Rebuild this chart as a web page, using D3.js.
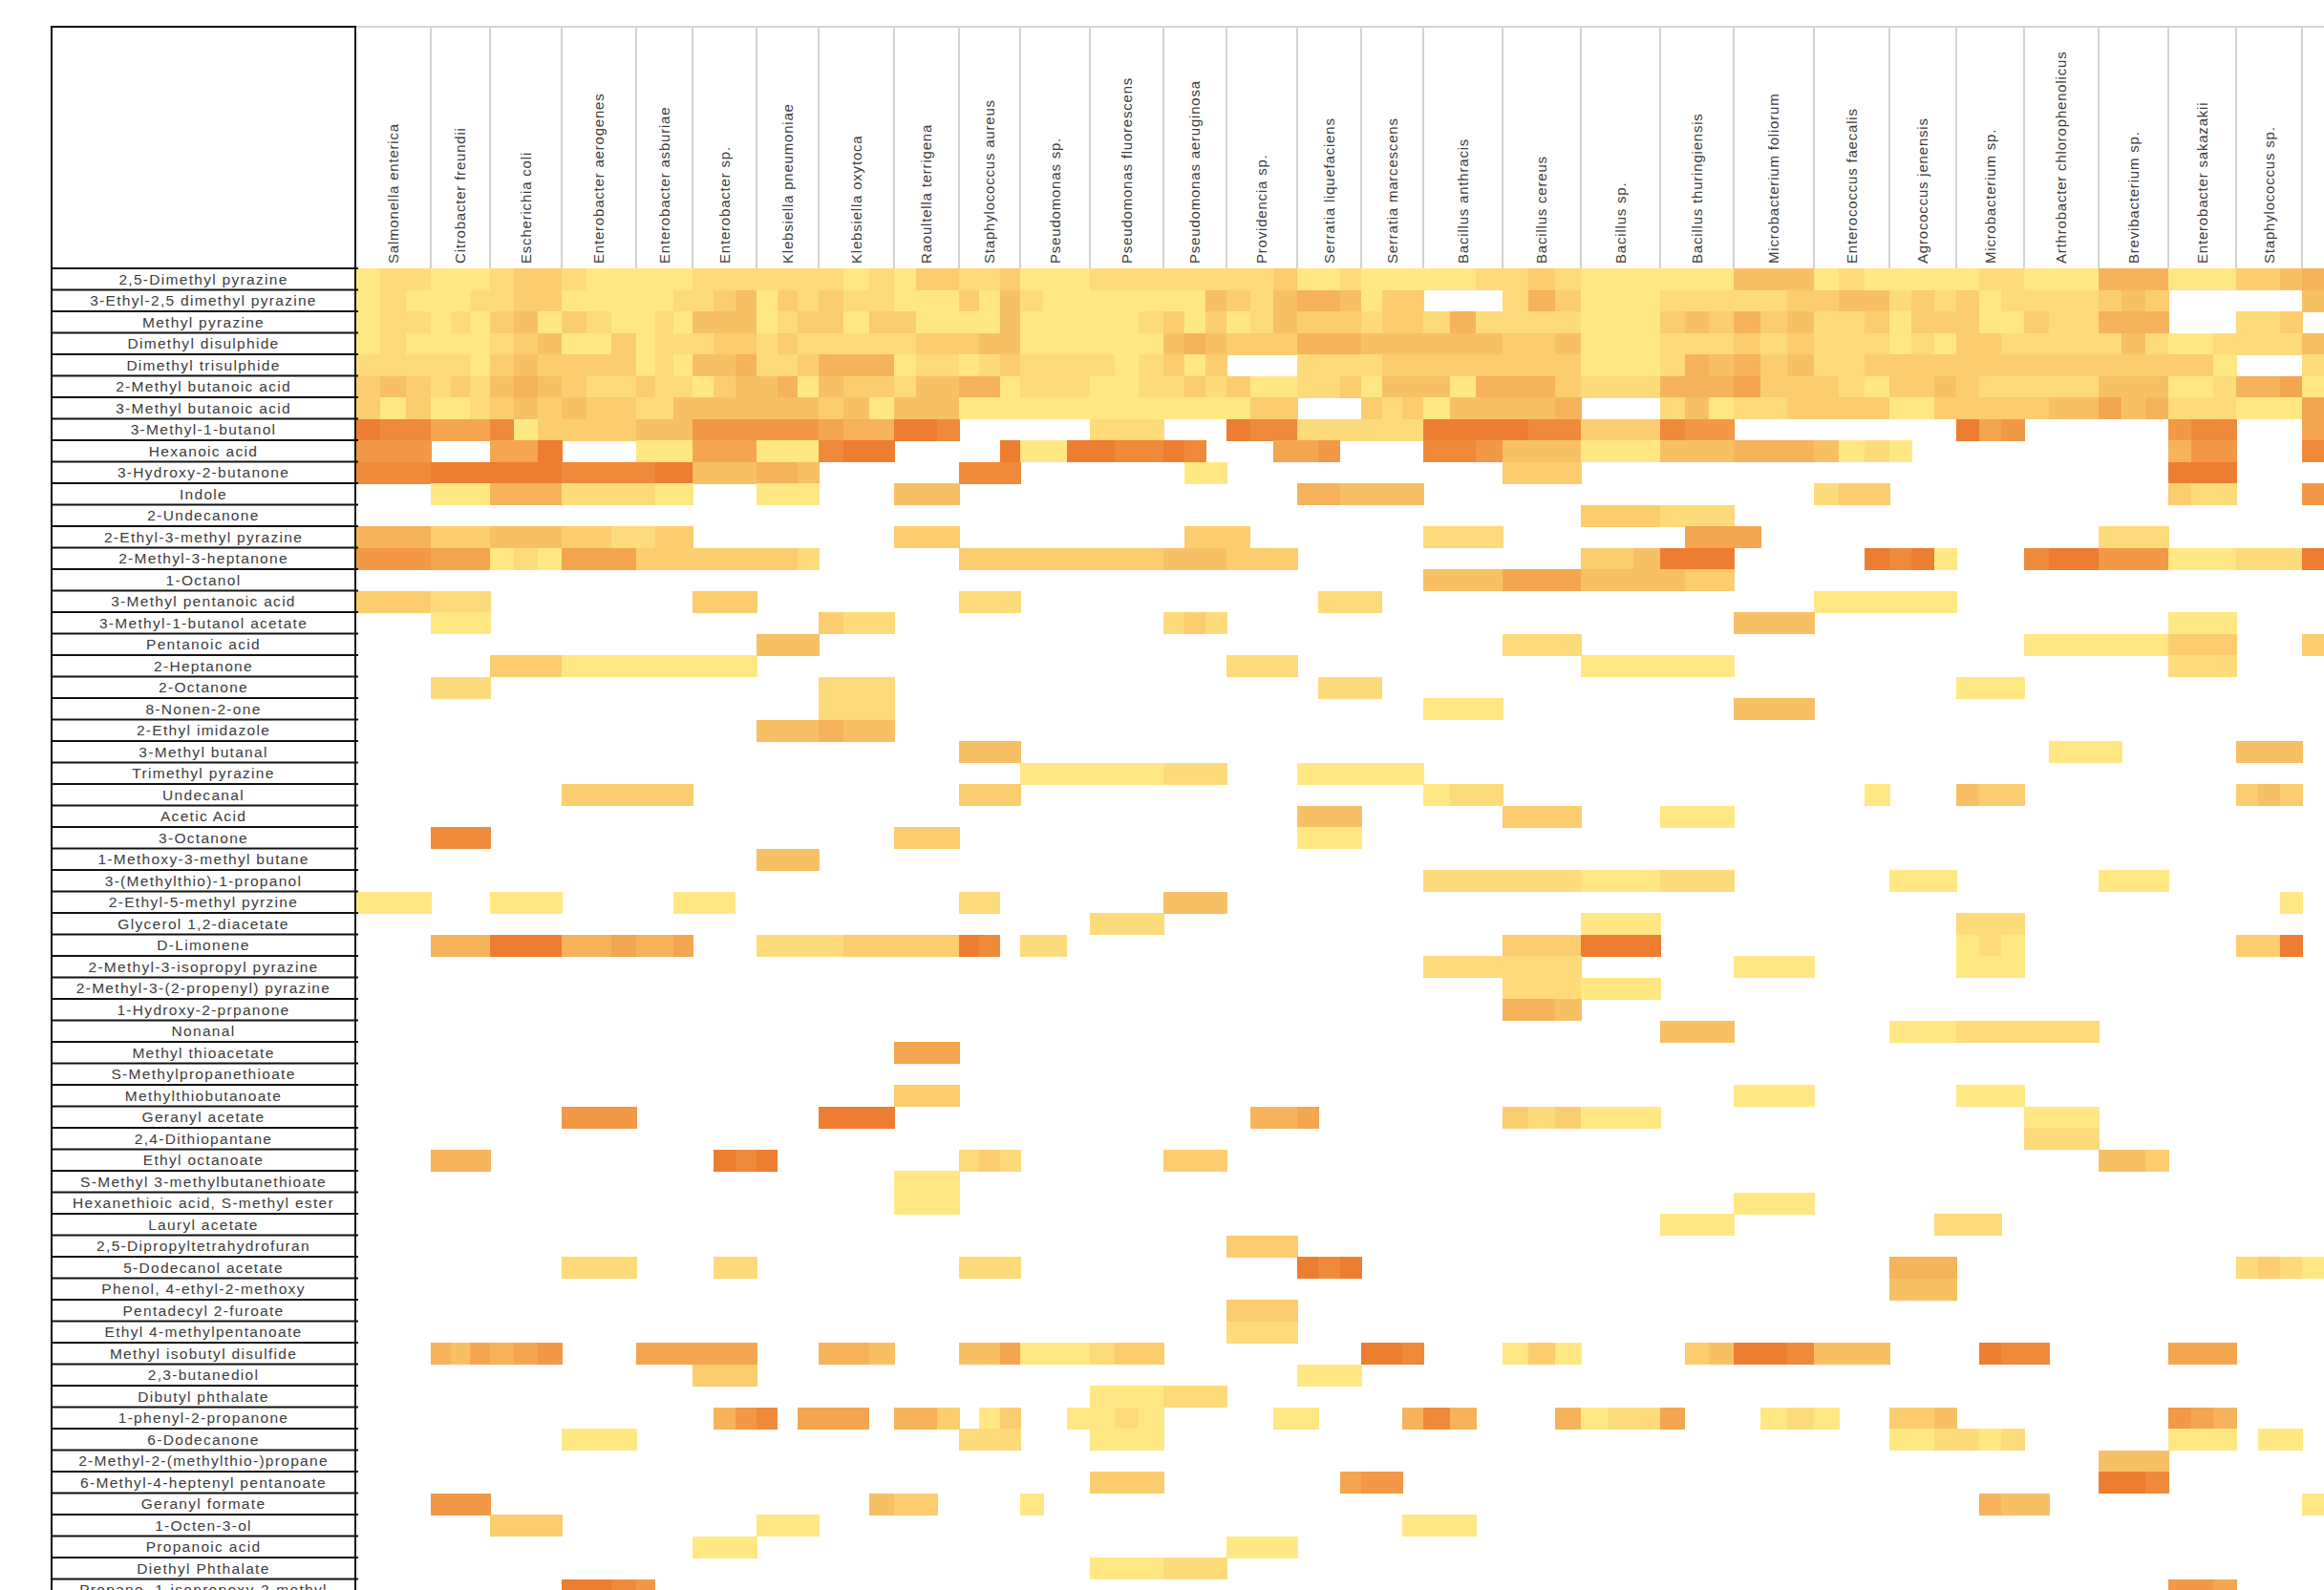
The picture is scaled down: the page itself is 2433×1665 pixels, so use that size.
<!DOCTYPE html>
<html>
<head>
<meta charset="utf-8">
<script src="https://cdn.jsdelivr.net/npm/d3@7"></script>
<style>
  html, body { margin: 0; padding: 0; background: #fff; overflow: hidden; }
  svg { display: block; }
  text { font-family: "Liberation Sans", Arial, sans-serif; fill: #3c3c3c; }
</style>
</head>
<body>
<div id="chart"></div>
<script>
// bacteria (columns), each split in three sub-columns in the sheet
const species = [
  "Salmonella enterica", "Citrobacter freundii", "Escherichia coli", "Enterobacter aerogenes",
  "Enterobacter asburiae", "Enterobacter sp.", "Klebsiella pneumoniae", "Klebsiella oxytoca",
  "Raoultella terrigena", "Staphylococcus aureus", "Pseudomonas sp.", "Pseudomonas fluorescens",
  "Pseudomonas aeruginosa", "Providencia sp.", "Serratia liquefaciens", "Serratia marcescens",
  "Bacillus anthracis", "Bacillus cereus", "Bacillus sp.", "Bacillus thuringiensis",
  "Microbacterium foliorum", "Enterococcus faecalis", "Agrococcus jenensis", "Microbacterium sp.",
  "Arthrobacter chlorophenolicus", "Brevibacterium sp.", "Enterobacter sakazakii", "Staphylococcus sp.", ""
];
// short keys used in the cell table below, same order as species
const speciesKey = ["S","C","E","A","B","N","P","O","R","U","Ps","F","G","V","L","M",
  "Ba","Bc","Bs","Bt","Mf","Ef","Ag","Ms","Ar","Bv","Sk","St","X"];

const compounds = [
  "2,5-Dimethyl pyrazine", "3-Ethyl-2,5 dimethyl pyrazine", "Methyl pyrazine", "Dimethyl disulphide",
  "Dimethyl trisulphide", "2-Methyl butanoic acid", "3-Methyl butanoic acid", "3-Methyl-1-butanol",
  "Hexanoic acid", "3-Hydroxy-2-butanone", "Indole", "2-Undecanone", "2-Ethyl-3-methyl pyrazine",
  "2-Methyl-3-heptanone", "1-Octanol", "3-Methyl pentanoic acid", "3-Methyl-1-butanol acetate",
  "Pentanoic acid", "2-Heptanone", "2-Octanone", "8-Nonen-2-one", "2-Ethyl imidazole",
  "3-Methyl butanal", "Trimethyl pyrazine", "Undecanal", "Acetic Acid", "3-Octanone",
  "1-Methoxy-3-methyl butane", "3-(Methylthio)-1-propanol", "2-Ethyl-5-methyl pyrzine",
  "Glycerol 1,2-diacetate", "D-Limonene", "2-Methyl-3-isopropyl pyrazine",
  "2-Methyl-3-(2-propenyl) pyrazine", "1-Hydroxy-2-prpanone", "Nonanal", "Methyl thioacetate",
  "S-Methylpropanethioate", "Methylthiobutanoate", "Geranyl acetate", "2,4-Dithiopantane",
  "Ethyl octanoate", "S-Methyl 3-methylbutanethioate", "Hexanethioic acid, S-methyl ester",
  "Lauryl acetate", "2,5-Dipropyltetrahydrofuran", "5-Dodecanol acetate", "Phenol, 4-ethyl-2-methoxy",
  "Pentadecyl 2-furoate", "Ethyl 4-methylpentanoate", "Methyl isobutyl disulfide", "2,3-butanediol",
  "Dibutyl phthalate", "1-phenyl-2-propanone", "6-Dodecanone", "2-Methyl-2-(methylthio-)propane",
  "6-Methyl-4-heptenyl pentanoate", "Geranyl formate", "1-Octen-3-ol", "Propanoic acid",
  "Diethyl Phthalate", "Propane, 1-isopropoxy-2-methyl"
];

// intensity 1 (pale) .. 9 (strong) for the three sub-columns of each bacterium, "." = not detected
const cellLevels = [
  "S:122 C:111 E:233 A:211 B:111 N:222 P:222 O:212 R:133 U:223 Ps:111 F:222 G:222 V:223 L:112 M:111 Ba:112 Bc:232 Bs:111 Bt:111 Mf:444 Ef:121 Ag:111 Ms:122 Ar:111 Bv:555 Sk:111 St:334 X:5..",
  "S:121 C:112 E:233 A:111 B:112 N:234 P:132 O:322 R:111 U:314 Ps:211 F:111 G:114 V:324 L:554 M:133 Bc:253 Bs:111 Bt:222 Mf:223 Ef:344 Ag:232 Ms:312 Ar:222 Bv:343 X:4..",
  "S:122 C:121 E:341 A:321 B:121 N:444 P:123 O:313 R:311 U:114 Ps:111 F:112 G:313 V:124 L:333 M:233 Ba:252 Bc:222 Bs:111 Bt:343 Mf:534 Ef:223 Ag:133 Ms:311 Ar:322 Bv:555 St:223",
  "S:121 C:111 E:234 A:113 B:122 N:233 P:232 O:222 R:233 U:344 Ps:111 F:111 G:454 V:333 L:555 M:444 Ba:444 Bc:334 Bs:111 Bt:222 Mf:323 Ef:222 Ag:121 Ms:332 Ar:222 Bv:242 Sk:112 St:222 X:4..",
  "S:222 C:221 E:343 A:333 B:121 N:445 P:223 O:555 R:122 U:123 Ps:222 F:212 G:313 L:222 M:233 Ba:333 Bc:333 Bs:111 Bt:254 Mf:534 Ef:223 Ag:333 Ms:333 Ar:333 Bv:333 Sk:331 X:2..",
  "S:343 C:232 E:454 A:322 B:322 N:134 P:451 O:433 R:244 U:551 Ps:222 F:112 G:232 V:311 L:223 M:144 Ba:415 Bc:553 Bs:222 Bt:555 Mf:633 Ef:321 Ag:334 Ms:322 Ar:222 Bv:444 Sk:112 St:556 X:1..",
  "S:313 C:112 E:343 A:433 B:224 N:444 P:444 O:341 R:444 U:111 Ps:111 F:111 G:111 V:133 M:323 Ba:144 Bc:445 Bt:241 Mf:223 Ef:333 Ag:113 Ms:333 Ar:344 Bv:645 Sk:222 St:111 X:6..",
  "S:988 C:666 E:813 A:333 B:444 N:777 P:777 O:655 R:998 F:222 V:988 L:222 M:222 Ba:999 Bc:988 Bs:333 Bt:877 Ms:967 Sk:788 X:6..",
  "S:777 E:669 B:111 N:666 P:111 O:899 U:..9 Ps:119 F:988 G:98. V:..6 L:67. Ba:887 Bc:444 Bs:111 Bt:444 Mf:555 Ef:412 Ag:1.. Sk:577 X:8..",
  "S:888 C:999 E:999 A:888 B:899 N:444 P:554 U:888 G:.11 Bc:333 Sk:999",
  "C:111 E:555 A:222 B:211 P:111 R:444 L:554 M:444 Ef:233 Sk:322 X:7..",
  "Bs:333 Bt:222",
  "S:555 C:333 E:444 A:332 B:233 R:333 G:.33 V:3.. Ba:222 Bt:.66 Mf:6.. Bv:222",
  "S:777 C:666 E:121 A:666 B:333 N:333 P:332 U:333 Ps:333 F:333 G:444 V:333 Bs:334 Bt:999 Ef:..9 Ag:891 Ar:899 Bv:777 Sk:111 St:222 X:9..",
  "Ba:444 Bc:666 Bs:444 Bt:433",
  "S:333 C:222 N:333 U:222 L:.22 M:2.. Ef:111 Ag:111",
  "C:111 O:322 G:232 Mf:444 Sk:111",
  "P:444 Bc:222 Ar:111 Bv:111 Sk:333 X:3..",
  "E:333 A:111 B:111 N:111 V:222 Bs:111 Bt:111 Sk:222",
  "C:222 O:222 L:.22 M:2.. Ms:111",
  "O:222 Ba:111 Mf:444",
  "P:444 O:544",
  "U:444 Ar:.11 Bv:1.. St:444",
  "Ps:111 F:111 G:222 L:111 M:111",
  "A:333 B:333 U:333 Ba:122 Ef:..1 Ms:433 St:343",
  "L:444 Bc:333 Bt:111",
  "C:888 R:333 L:111",
  "P:444",
  "Ba:222 Bc:222 Bs:111 Bt:222 Ag:111 Bv:111",
  "S:111 E:111 B:..1 N:11. U:22. G:444 St:..1",
  "F:222 Bs:111 Ms:222",
  "C:555 E:999 A:556 B:556 P:222 O:233 R:333 U:98. Ps:22. Bc:333 Bs:999 Ms:121 St:339",
  "Ba:222 Bc:222 Mf:111 Ms:111",
  "Bc:222 Bs:111",
  "Bc:554",
  "Bt:444 Ag:111 Ms:222 Ar:222",
  "R:666",
  "",
  "R:333 Mf:111 Ms:111",
  "A:777 O:999 V:.55 L:6.. Bc:323 Bs:111 Ar:111",
  "Ar:222",
  "C:555 N:.98 P:9.. U:232 G:333 Bv:443",
  "R:111",
  "R:111 Mf:111",
  "Bt:111 Ag:..2 Ms:22.",
  "V:333",
  "A:222 N:.22 U:222 L:989 Ag:555 St:232 X:1..",
  "Ag:444",
  "V:333",
  "V:222",
  "C:546 E:567 B:666 N:666 O:554 U:446 Ps:111 F:233 M:998 Bc:131 Bt:.34 Mf:998 Ef:444 Ms:.98 Ar:8.. Sk:666",
  "N:333 L:111",
  "F:111 G:222",
  "N:.57 P:8.6 O:66. R:553 U:.13 Ps:..1 F:121 V:..1 L:1.. M:..5 Ba:85. Bc:..5 Bs:122 Bt:6.. Mf:.12 Ef:1.. Ag:334 Sk:765",
  "A:111 U:222 F:111 Ag:112 Ms:212 Sk:111 St:.11",
  "Bv:444",
  "F:333 L:..6 M:77. Bv:998",
  "C:777 O:..4 R:33. Ps:1.. Ms:.54 Ar:4.. X:1..",
  "E:333 P:111 M:..1 Ba:11.",
  "N:111 V:111",
  "F:111 G:222",
  "A:998 B:7.. Sk:776"
];

// ---- layout ----
const W = 2433, H = 1665;
const labelLeft = 54, gridLeft = 372, headTop = 28, gridTop = 281, rowH = 22.5;
// column widths as set in the spreadsheet
const colWidths = [79,62,75,78,59,67,65,79,68,64,73,77,66,74,67,65,83,82,83,77,84,79,70,71,78,73,71,69,72];

const lefts = Array.from(d3.cumsum([0, ...colWidths.slice(0, -1)]), v => gridLeft + v);
const x = d3.scaleOrdinal(species, lefts);
const xw = d3.scaleOrdinal(species, colWidths);
const y = d3.scaleBand(compounds, [gridTop, gridTop + compounds.length * rowH]);
const color = d3.scaleLinear().domain([1, 9]).range(["#FFE884", "#ED7D31"]).interpolate(d3.interpolateRgb);

const cells = [];
cellLevels.forEach((row, r) => {
  row.split(/\s+/).filter(Boolean).forEach(tok => {
    const [key, lv] = tok.split(":");
    const s = speciesKey.indexOf(key);
    for (let k = 0; k < 3; k++) {
      if (lv[k] && lv[k] !== ".") cells.push({ compound: compounds[r], sp: species[s], sub: k, v: +lv[k] });
    }
  });
});

const svg = d3.select("#chart").append("svg")
  .attr("width", W).attr("height", H);

// cells
svg.append("g").selectAll("rect").data(cells).join("rect")
  .attr("x", d => x(d.sp) + d.sub * xw(d.sp) / 3)
  .attr("y", d => y(d.compound))
  .attr("width", d => xw(d.sp) / 3 + 0.6)
  .attr("height", y.bandwidth() + 0.6)
  .attr("fill", d => color(d.v))
  .attr("shape-rendering", "crispEdges");

// header grid (light grey)
const head = svg.append("g").attr("stroke", "#d2d2d2").attr("stroke-width", 2);
head.append("line").attr("x1", gridLeft).attr("x2", W).attr("y1", headTop).attr("y2", headTop);
head.selectAll("line.v").data(species).join("line").attr("class", "v")
  .attr("x1", d => x(d)).attr("x2", d => x(d))
  .attr("y1", headTop).attr("y2", gridTop);

// species labels
svg.append("g").selectAll("text").data(species).join("text")
  .attr("transform", d => `translate(${x(d) + xw(d) / 2 + 5},${gridTop - 5}) rotate(-90)`)
  .attr("font-size", 15)
  .attr("letter-spacing", 0.8)
  .text(d => d);

// label column borders (black)
const lab = svg.append("g").attr("stroke", "#111").attr("stroke-width", 2);
lab.append("line").attr("x1", labelLeft).attr("x2", labelLeft).attr("y1", headTop - 1).attr("y2", H);
lab.append("line").attr("x1", gridLeft).attr("x2", gridLeft).attr("y1", headTop - 1).attr("y2", H);
lab.append("line").attr("x1", labelLeft).attr("x2", gridLeft).attr("y1", headTop).attr("y2", headTop);
lab.selectAll("line.h").data([gridTop, ...compounds.map(c => y(c) + rowH)]).join("line").attr("class", "h")
  .attr("x1", labelLeft).attr("x2", gridLeft + 3)
  .attr("y1", d => d).attr("y2", d => d);

// compound labels
svg.append("g").selectAll("text").data(compounds).join("text")
  .attr("x", (labelLeft + gridLeft) / 2)
  .attr("y", d => y(d) + rowH / 2)
  .attr("dy", "0.36em")
  .attr("text-anchor", "middle")
  .attr("font-size", 15.5)
  .attr("letter-spacing", 1.3)
  .text(d => d);
</script>
</body>
</html>
